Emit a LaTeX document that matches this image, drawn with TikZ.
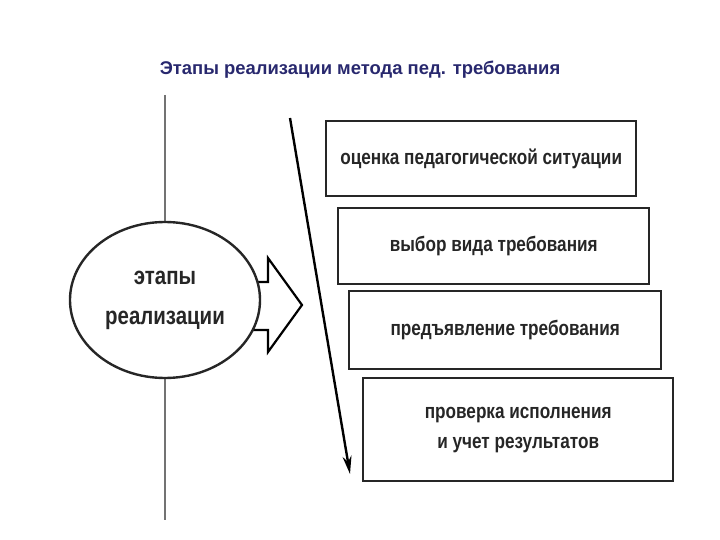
\documentclass[tikz,border=0pt]{standalone}
\usepackage{fontspec}
\setmainfont{Liberation Sans}
\newfontfamily\narrowf[FakeStretch=0.82]{Liberation Sans}
\usetikzlibrary{arrows.meta,shapes.geometric}
\begin{document}
\begin{tikzpicture}[x=1bp,y=-1bp,
  stage/.style={draw=black!85,line width=2.4pt,inner sep=0pt,align=center,font=\narrowf\fontsize{21}{30}\selectfont\bfseries,anchor=north west},
  every node/.style={text=black!85}]
\useasboundingbox (0,0) rectangle (720,540);
\node[text={rgb,255:red,40;green,40;blue,110},font=\fontsize{18.5}{22}\selectfont\bfseries] (title) at (360,70) {Этапы реализации метода пед. требования};
\coordinate (vt) at (165,95); \coordinate (vb) at (165,520);
\draw[black!55,line width=3pt] (vt) -- (vb);
\draw[line width=2.2pt,fill=white] (230,282) -- (268,282) -- (268,258) -- (302,305) -- (268,352) -- (268,330) -- (230,330) -- cycle;
\node[draw=black!85,line width=2.4pt,fill=white,ellipse,inner sep=0pt,minimum width=190bp,minimum height=156bp,align=center,font=\narrowf\fontsize{25}{40}\selectfont\bfseries] (e) at (165,300) {этапы\\реализации};
\node[stage,minimum width=310bp,minimum height=75bp] (b1) at (325,120) {оценка педагогической ситуации};
\node[stage,minimum width=311bp,minimum height=76bp] (b2) at (337,207) {выбор вида требования};
\node[stage,minimum width=312bp,minimum height=78bp] (b3) at (348,290) {предъявление требования};
\node[stage,minimum width=310bp,minimum height=103bp] (b4) at (362,377) {проверка исполнения\\и учет результатов};
\coordinate (a1) at (290,118); \coordinate (a2) at (350,474);
\draw[line width=2.4pt,-{Stealth[length=18bp,width=9bp]}] (a1) -- (a2);
\end{tikzpicture}
\end{document}
